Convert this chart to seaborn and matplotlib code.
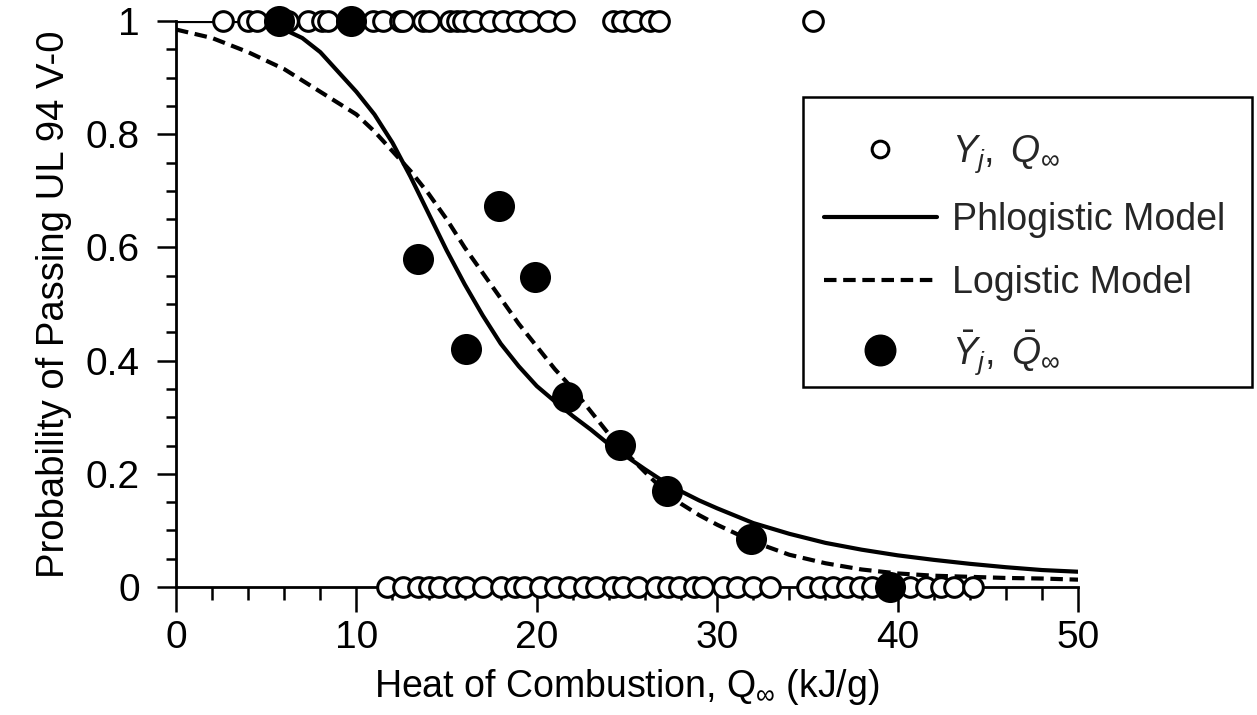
import numpy as np
import pandas as pd
import seaborn as sns
import matplotlib
matplotlib.use("Agg")
import matplotlib.pyplot as plt
from matplotlib.lines import Line2D
from matplotlib.patches import Rectangle
from matplotlib.ticker import MultipleLocator

# individual results Y_j = 1 (passed) and Y_j = 0 (failed)
q_pass = [2.6, 4.0, 4.5, 5.6, 6.2, 7.3, 8.1, 8.4, 9.8, 10.9, 11.5, 12.4, 12.6,
          13.7, 14.0, 15.2, 15.6, 15.9, 16.5, 17.4, 18.1, 18.9, 19.6, 20.6,
          21.5, 24.2, 24.7, 25.4, 26.3, 26.8, 35.3]
q_fail = [11.7, 12.6, 13.4, 14.0, 14.6, 15.4, 16.1, 17.0, 18.0, 18.8, 19.3,
          20.2, 21.0, 21.8, 22.6, 23.3, 24.2, 24.8, 25.6, 26.6, 27.3, 27.9,
          28.7, 29.2, 30.3, 31.1, 32.0, 32.9, 35.0, 35.7, 36.4, 37.2, 37.9,
          38.6, 40.7, 41.6, 42.4, 43.1, 44.2]

# binned means
q_mean = [5.7, 9.7, 13.4, 16.1, 17.9, 19.9, 21.7, 24.6, 27.2, 31.9, 39.6]
y_mean = [1.0, 1.0, 0.58, 0.42, 0.673, 0.547, 0.336, 0.251, 0.170, 0.085, 0.0]

# model curves
q_model = [0, 2, 4, 5, 6, 7, 8, 9, 10, 11, 12, 13, 14, 15, 16, 17, 18, 19, 20,
           21, 22, 23, 24, 25, 26, 27, 28, 29, 30, 32, 34, 36, 38, 40, 42, 44,
           46, 48, 50]
p_phlogistic = [1.0, 1.0, 1.0, 0.995, 0.985, 0.97, 0.945, 0.91, 0.875, 0.835,
                0.785, 0.725, 0.66, 0.595, 0.535, 0.48, 0.43, 0.39, 0.355,
                0.328, 0.302, 0.278, 0.252, 0.23, 0.208, 0.187, 0.169, 0.153,
                0.139, 0.113, 0.094, 0.078, 0.066, 0.056, 0.048, 0.041, 0.035,
                0.03, 0.027]
p_logistic = [0.985, 0.97, 0.945, 0.93, 0.915, 0.895, 0.875, 0.855, 0.835,
              0.805, 0.77, 0.735, 0.695, 0.65, 0.6, 0.555, 0.51, 0.465,
              0.425, 0.385, 0.35, 0.31, 0.27, 0.235, 0.203, 0.172, 0.147,
              0.127, 0.11, 0.08, 0.057, 0.042, 0.031, 0.024, 0.02, 0.018,
              0.016, 0.015, 0.013]

curves = pd.concat([
    pd.DataFrame({"Q": q_model, "P": p_phlogistic, "model": "Phlogistic Model"}),
    pd.DataFrame({"Q": q_model, "P": p_logistic, "model": "Logistic Model"}),
])
raw = pd.DataFrame({
    "Q": q_pass + q_fail,
    "Y": [1.0] * len(q_pass) + [0.0] * len(q_fail),
})
means = pd.DataFrame({"Q": q_mean, "Y": y_mean})

sns.set_theme(style="ticks")
plt.rcParams["font.family"] = ["Liberation Sans", "DejaVu Sans"]
plt.rcParams["mathtext.fontset"] = "custom"
plt.rcParams["mathtext.rm"] = "Liberation Sans"
plt.rcParams["mathtext.it"] = "Liberation Sans:italic"

fig = plt.figure(figsize=(12.57, 7.15), dpi=100)
ax = fig.add_axes([0.14, 0.179, 0.7176, 0.7916])

sns.lineplot(data=curves, x="Q", y="P", style="model", color="black",
             dashes={"Phlogistic Model": "", "Logistic Model": (3, 1.6)},
             linewidth=3.0, legend=False, ax=ax, zorder=2)
sns.scatterplot(data=raw, x="Q", y="Y", s=200, facecolor="white",
                edgecolor="black", linewidth=2.2, legend=False, ax=ax,
                clip_on=False, zorder=3)
sns.scatterplot(data=means, x="Q", y="Y", s=500, color="black",
                edgecolor="black", linewidth=0, legend=False, ax=ax,
                clip_on=False, zorder=4)

ax.set_xlim(0, 50)
ax.set_ylim(0, 1)
ax.xaxis.set_major_locator(MultipleLocator(10))
ax.xaxis.set_minor_locator(MultipleLocator(2))
ax.yaxis.set_major_locator(MultipleLocator(0.2))
ax.yaxis.set_minor_locator(MultipleLocator(0.05))
ax.set_yticks([0, 0.2, 0.4, 0.6, 0.8, 1.0])
ax.set_yticklabels(["0", "0.2", "0.4", "0.6", "0.8", "1"])
ax.tick_params(axis="x", which="major", direction="out", length=18, width=1.8,
               labelsize=28, pad=6, color="black", labelcolor="black")
ax.tick_params(axis="x", which="minor", direction="out", length=9, width=1.8,
               color="black")
ax.tick_params(axis="y", which="major", direction="out", length=14, width=1.8,
               labelsize=28, pad=12, color="black", labelcolor="black")
ax.tick_params(axis="y", which="minor", direction="out", length=7, width=1.8,
               color="black")
sns.despine(ax=ax)
for side in ["left", "bottom"]:
    ax.spines[side].set_linewidth(2.0)
    ax.spines[side].set_color("black")

ax.set_xlabel("Heat of Combustion, Q$_{\\infty}$ (kJ/g)", fontsize=27,
              labelpad=8, color="black")
ax.set_ylabel("Probability of Passing UL 94 V-0", fontsize=27.5, labelpad=10,
              color="black")

handles = [
    Line2D([], [], linestyle="none", marker="o", markersize=12,
           markerfacecolor="white", markeredgecolor="black",
           markeredgewidth=2.2),
    Line2D([], [], color="black", linewidth=3.0),
    Line2D([], [], color="black", linewidth=3.0, dashes=(3, 1.6)),
    Line2D([], [], linestyle="none", marker="o", markersize=22,
           markerfacecolor="black", markeredgecolor="black"),
]
labels = [r"$Y_j,\ Q_\infty$", "Phlogistic Model", "Logistic Model",
          r"$\bar{Y}_j,\ \bar{Q}_\infty$"]
leg = ax.legend(handles, labels, loc="upper left",
                bbox_to_anchor=(0.639, 0.843), bbox_transform=fig.transFigure,
                fontsize=27, frameon=False, handlelength=3.0,
                handletextpad=0.4, labelspacing=0.72, borderpad=0.56,
                borderaxespad=0)

# legend box
fig.add_artist(Rectangle((0.6388, 0.4587), 0.3572, 0.4056,
                         transform=fig.transFigure, fill=False,
                         linewidth=1.8, edgecolor="black"))

fig.savefig("out.png", dpi=100, facecolor="white")
